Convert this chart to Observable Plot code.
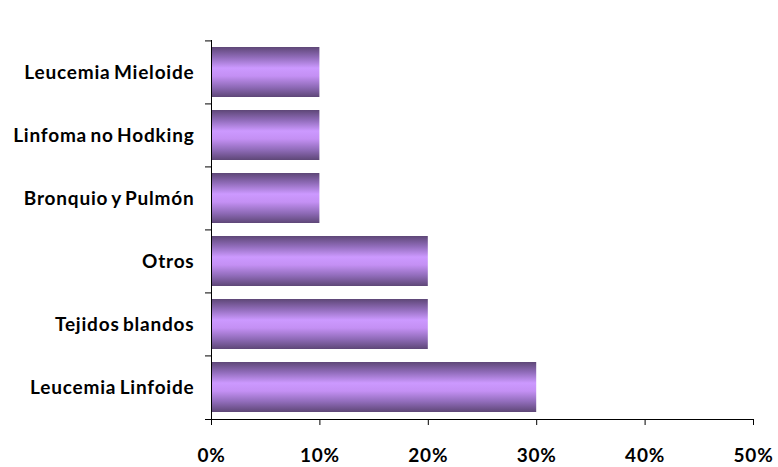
<!DOCTYPE html>
<html>
<head>
<meta charset="utf-8">
<script src="https://cdn.jsdelivr.net/npm/d3@7"></script>
<script src="https://cdn.jsdelivr.net/npm/@observablehq/plot@0.6"></script>
<style>
  body { margin: 0; background: #fff; }
  #chart svg { display: block; }
  #chart svg text { letter-spacing: 0.8px; word-spacing: -2px; }
</style>
</head>
<body>
<div id="chart"></div>
<script>
// Data (top to bottom as displayed)
const categories = ["Leucemia Mieloide", "Linfoma no Hodking", "Bronquio y Pulmón", "Otros", "Tejidos blandos", "Leucemia Linfoide"];
const values = [10, 10, 10, 20, 20, 30];
const xTicks = [0, 10, 20, 30, 40, 50];

const data = categories.map((c, i) => ({category: c, value: values[i]}));

const W = 778, H = 467;
const mt = 40, mb = 48, ml = 211, mr = 25;
const padIn = 0.2, padOut = 0.1;
const step = (H - mt - mb) / (categories.length - padIn + 2 * padOut);
const font = "Lato, 'Open Sans', sans-serif";
const fs = 19;

const chart = Plot.plot({
  width: W,
  height: H,
  marginTop: mt,
  marginBottom: mb,
  marginLeft: ml,
  marginRight: mr,
  style: {fontFamily: font, fontSize: fs + "px", fontWeight: "bold", color: "#000", background: "#fff", overflow: "visible"},
  x: {domain: [0, 50]},
  y: {domain: categories, paddingInner: padIn, paddingOuter: padOut},
  marks: [
    Plot.barX(data, {y: "category", x: "value", fill: "url(#barGrad)"}),
    Plot.frame({anchor: "left", stroke: "#000", strokeWidth: 1}),
    Plot.frame({anchor: "bottom", stroke: "#000", strokeWidth: 1, insetLeft: -6}),
    Plot.axisY({tickSize: 6, tickFormat: () => "", dy: -step / 2, stroke: "#000", label: null}),
    Plot.axisY({tickSize: 0, tickPadding: 17, label: null, fontSize: fs, fontWeight: "bold", fill: "#000"}),
    Plot.axisX({ticks: xTicks, tickSize: 6, tickPadding: 23, tickFormat: d => d + "%", label: null, fontSize: fs, fontWeight: "bold", fill: "#000", stroke: "#000"})
  ]
});

const ns = "http://www.w3.org/2000/svg";
const defs = document.createElementNS(ns, "defs");
const grad = document.createElementNS(ns, "linearGradient");
grad.setAttribute("id", "barGrad");
grad.setAttribute("x1", "0"); grad.setAttribute("y1", "0");
grad.setAttribute("x2", "0"); grad.setAttribute("y2", "1");
[["0%", "#5e4777"], ["20%", "#8f6bb8"], ["42%", "#cc99ff"], ["58%", "#c490f4"], ["80%", "#8f6bb8"], ["100%", "#5e4777"]].forEach(([o, c]) => {
  const s = document.createElementNS(ns, "stop");
  s.setAttribute("offset", o);
  s.setAttribute("stop-color", c);
  grad.appendChild(s);
});
defs.appendChild(grad);
chart.insertBefore(defs, chart.firstChild);

document.getElementById("chart").appendChild(chart);
</script>
</body>
</html>
